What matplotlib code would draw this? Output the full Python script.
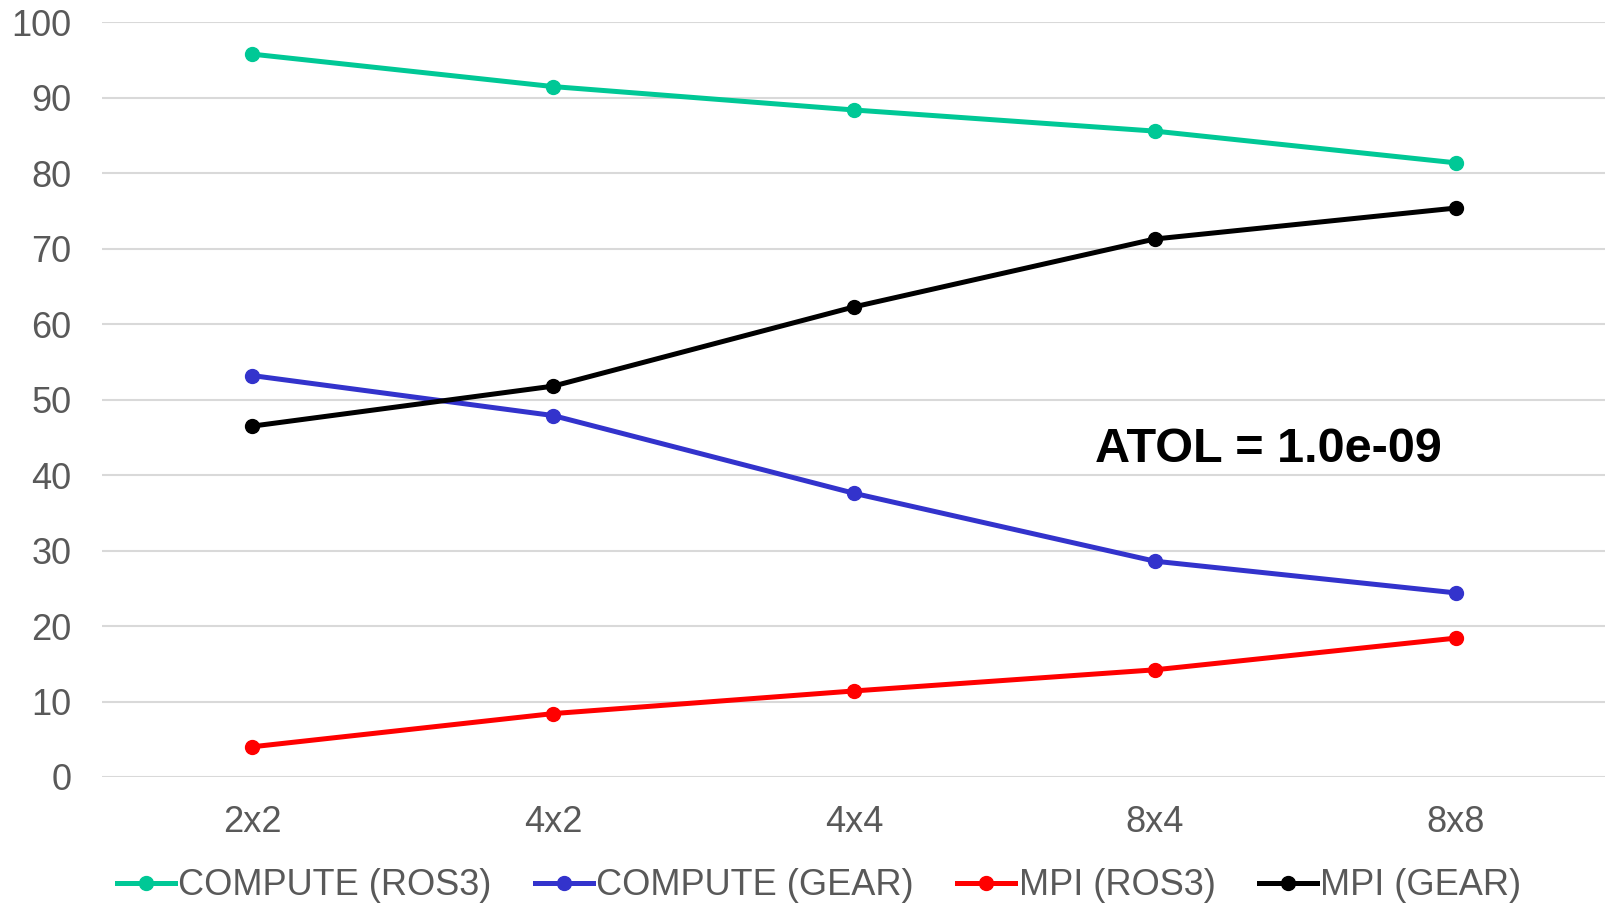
import matplotlib
matplotlib.use('Agg')
import matplotlib.pyplot as plt
import numpy as np

categories = ['2x2', '4x2', '4x4', '8x4', '8x8']
compute_ros3 = [95.8, 91.5, 88.4, 85.6, 81.4]
compute_gear = [53.2, 47.9, 37.6, 28.6, 24.4]
mpi_ros3 = [4.0, 8.4, 11.4, 14.2, 18.4]
mpi_gear = [46.5, 51.8, 62.3, 71.3, 75.4]

plt.rcParams['font.family'] = ['Liberation Sans', 'DejaVu Sans']

fig = plt.figure(figsize=(16.06, 9.13), dpi=100)
ax = fig.add_axes([0.0635, 0.149, 0.9365, 0.8264])

x = np.arange(len(categories))
series = [
    ('COMPUTE (ROS3)', compute_ros3, '#00c896'),
    ('COMPUTE (GEAR)', compute_gear, '#3333cc'),
    ('MPI (ROS3)', mpi_ros3, '#ff0000'),
    ('MPI (GEAR)', mpi_gear, '#000000'),
]
for name, vals, col in series:
    ax.plot(x, vals, color=col, linewidth=3.6, marker='o', markersize=10, label=name, zorder=3)

ax.set_xlim(-0.5, 4.5)
ax.set_ylim(0, 100)
ax.set_yticks(np.arange(0, 101, 10))
ax.set_xticks(x)
ax.set_xticklabels(categories)
ax.grid(True, axis='y', color='#d9d9d9', linewidth=1.5)
ax.set_axisbelow(True)
for s in ax.spines.values():
    s.set_visible(False)
ax.tick_params(axis='both', length=0, labelsize=26, labelcolor='#595959')
ax.tick_params(axis='x', pad=20)
ax.tick_params(axis='y', pad=22)

ax.text(2.8, 43.4, 'ATOL = 1.0e-09', fontsize=35, fontweight='bold',
        ha='left', va='center')

fig.legend(loc='lower center', bbox_to_anchor=(0.51, -0.025), ncol=4, frameon=False,
           fontsize=26, labelcolor='#595959', handlelength=1.6, handletextpad=0.1,
           columnspacing=1.2)

plt.savefig('out.png', dpi=100)
plt.close()
